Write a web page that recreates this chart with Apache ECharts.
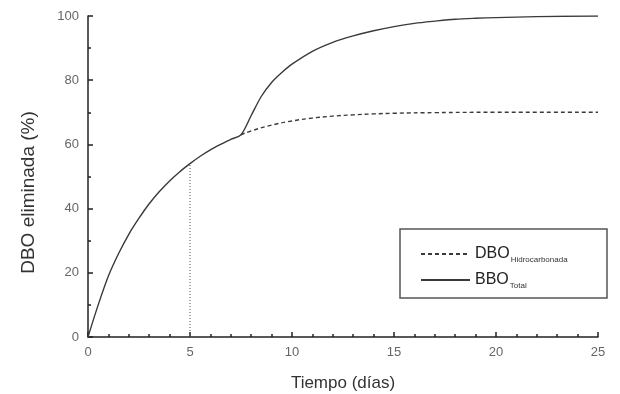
<!DOCTYPE html>
<html>
<head>
<meta charset="utf-8">
<script src="https://cdn.jsdelivr.net/npm/echarts@6/dist/echarts.min.js"></script>
<style>
  html, body { margin: 0; padding: 0; background: #fff; }
  #chart { width: 620px; height: 394px; }
</style>
</head>
<body>
<div id="chart"></div>
<script>
// DBO total (dias, %)
var totalDias = [0, 0.5, 1, 1.5, 2, 2.5, 3, 3.5, 4, 4.5, 5, 5.5, 6, 6.5, 7, 7.5, 8, 8.5, 9, 9.5, 10, 11, 12, 13, 14, 15, 16, 17, 18, 19, 20, 22, 25];
var totalPct = [0, 10, 19, 26, 32, 37, 41.5, 45.3, 48.6, 51.5, 54, 56.3, 58.3, 60, 61.6, 63, 69, 75, 79.3, 82.4, 85, 89, 91.8, 93.8, 95.4, 96.7, 97.7, 98.4, 99, 99.3, 99.5, 99.8, 100];
// DBO hidrocarbonada despues de 7.5 dias
var hidroDias = [7.5, 8, 9, 10, 11, 12, 13, 14, 15, 17, 20, 25];
var hidroPct = [63, 64.2, 66, 67.3, 68.2, 68.8, 69.2, 69.5, 69.7, 69.9, 70, 70];
// linea de referencia a 5 dias
var refDias = [5, 5];
var refPct = [0, 54];

function pares(xs, ys) {
    return xs.map(function (x, i) { return [x, ys[i]]; });
}

var myEcharts = echarts.init(document.getElementById('chart'));
var colorLinea = '#3a3a3a';
var ejeTick = { inside: true, length: 5, lineStyle: { color: '#222', width: 1.5 } };
myEcharts.setOption({
    animation: false,
    textStyle: { fontFamily: 'Liberation Sans, Arial, sans-serif' },
    grid: { left: 88, right: 22, top: 16, bottom: 57, outerBoundsMode: 'none' },
    graphic: [{
        type: 'rect',
        shape: { x: 400, y: 229, width: 207, height: 69 },
        style: { fill: 'none', stroke: '#555', lineWidth: 1.5 }
    }],
    legend: {
        orient: 'vertical',
        left: 415,
        top: 241,
        itemGap: 8,
        itemWidth: 49,
        itemHeight: 12,
        itemStyle: { color: 'transparent', borderColor: 'transparent', borderWidth: 0 },
        data: ['DBO_Hidrocarbonada', 'BBO_Total'],
        formatter: function (name) {
            var p = name.split('_');
            return '{a|' + p[0] + '}{b|' + p[1] + '}';
        },
        textStyle: {
            rich: {
                a: { fontSize: 16, color: '#222', fontFamily: 'Liberation Sans, Arial' },
                b: { fontSize: 8, color: '#333', padding: [12, 0, 0, 1], fontFamily: 'Liberation Sans, Arial' }
            }
        }
    },
    xAxis: {
        type: 'value',
        min: 0,
        max: 25,
        interval: 5,
        name: 'Tiempo (días)',
        nameLocation: 'middle',
        nameGap: 38,
        nameTextStyle: { fontSize: 17, color: '#333' },
        axisLine: { lineStyle: { color: '#222', width: 1.5 } },
        axisTick: ejeTick,
        minorTick: { show: true, splitNumber: 5, length: 3, lineStyle: { color: '#222', width: 1.5 } },
        axisLabel: { fontSize: 13, color: '#666', margin: 9 },
        splitLine: { show: false }
    },
    yAxis: {
        type: 'value',
        min: 0,
        max: 100,
        interval: 20,
        name: 'DBO eliminada (%)',
        nameLocation: 'middle',
        nameGap: 50,
        nameTextStyle: { fontSize: 19, color: '#333', padding: [0, 32, 0, 0] },
        axisLine: { show: true, lineStyle: { color: '#222', width: 1.5 } },
        axisTick: ejeTick,
        minorTick: { show: true, splitNumber: 2, length: 3, lineStyle: { color: '#222', width: 1.5 } },
        axisLabel: { fontSize: 13, color: '#666', margin: 9 },
        splitLine: { show: false }
    },
    series: [
        {
            name: 'DBO_Hidrocarbonada',
            type: 'line',
            smooth: true,
            symbol: 'none',
            data: pares(hidroDias, hidroPct),
            lineStyle: { color: colorLinea, width: 1.4, type: [4, 3] },
            itemStyle: { color: colorLinea }
        },
        {
            name: 'BBO_Total',
            type: 'line',
            smooth: 0.3,
            symbol: 'none',
            data: pares(totalDias, totalPct),
            lineStyle: { color: colorLinea, width: 1.4 },
            itemStyle: { color: colorLinea }
        },
        {
            name: 'ref',
            type: 'line',
            symbol: 'none',
            data: pares(refDias, refPct),
            lineStyle: { color: '#555', width: 1, type: [1, 2] }
        }
    ]
});
</script>
</body>
</html>
